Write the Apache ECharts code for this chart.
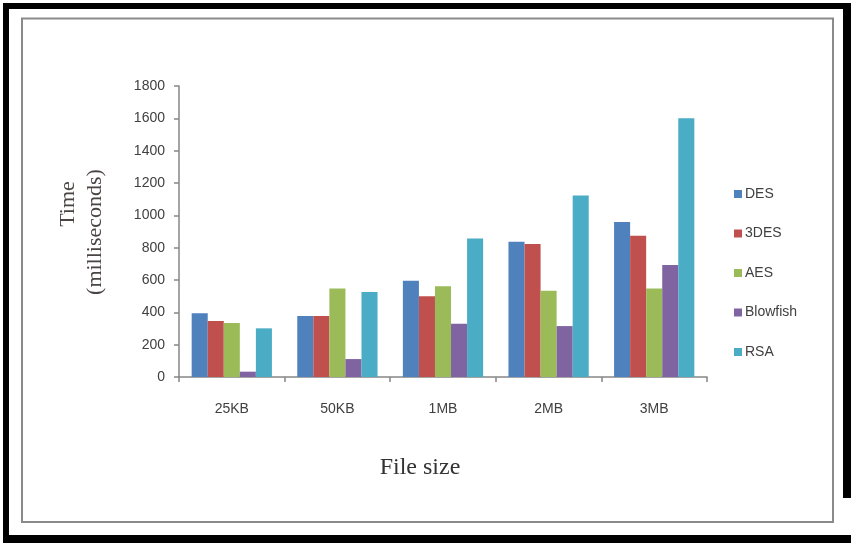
<!DOCTYPE html>
<html>
<head>
<meta charset="utf-8">
<script src="https://cdn.jsdelivr.net/npm/echarts@6/dist/echarts.min.js"></script>
<style>
html,body{margin:0;padding:0;background:#fff;}
#chart{width:851px;height:543px;}
</style>
</head>
<body>
<div id="chart"></div>
<script>
const categories = ['25KB', '50KB', '1MB', '2MB', '3MB'];
const seriesNames = ['DES', '3DES', 'AES', 'Blowfish', 'RSA'];
const desValues = [395, 377, 596, 837, 959];
const tripleDesValues = [346, 377, 499, 823, 874];
const aesValues = [334, 548, 561, 534, 548];
const blowfishValues = [33, 111, 330, 315, 693];
const rsaValues = [301, 526, 856, 1122, 1600];
const yTicks = [0, 200, 400, 600, 800, 1000, 1200, 1400, 1600, 1800];

const colors = ['#4F81BD', '#C0504D', '#9BBB59', '#8064A2', '#4BACC6'];
const allValues = [desValues, tripleDesValues, aesValues, blowfishValues, rsaValues];

const chart = echarts.init(document.getElementById('chart'), null, {renderer: 'canvas'});
const labelFont = '"Liberation Sans", Arial, sans-serif';
const serifFont = '"Liberation Serif", "Times New Roman", serif';

chart.setOption({
  animation: false,
  backgroundColor: '#ffffff',
  color: colors,
  grid: {left: 179, right: 144, top: 86, bottom: 166, containLabel: false},
  legend: {
    orient: 'vertical',
    left: 729,
    top: 182,
    itemWidth: 8,
    itemHeight: 8,
    itemGap: 25.5,
    icon: 'rect',
    data: seriesNames,
    textStyle: {fontFamily: labelFont, fontSize: 14, color: '#404040', lineHeight: 14, padding: [0, 0, 0, -2]}
  },
  xAxis: {
    type: 'category',
    data: categories,
    boundaryGap: true,
    axisLine: {show: true, lineStyle: {color: '#868686', width: 1.5}},
    axisTick: {show: true, length: 5, lineStyle: {color: '#868686', width: 1.5}},
    axisLabel: {margin: 25, fontFamily: labelFont, fontSize: 14, color: '#404040'},
    splitLine: {show: false}
  },
  yAxis: {
    type: 'value',
    min: yTicks[0],
    max: yTicks[yTicks.length - 1],
    interval: yTicks[1] - yTicks[0],
    axisLine: {show: true, lineStyle: {color: '#868686', width: 1.5}},
    axisTick: {show: true, length: 5, lineStyle: {color: '#868686', width: 1.5}},
    axisLabel: {margin: 14, fontFamily: labelFont, fontSize: 14, color: '#404040', formatter: v => String(v)},
    splitLine: {show: false}
  },
  series: seriesNames.map((name, i) => ({
    name: name,
    type: 'bar',
    data: allValues[i],
    barGap: '0%',
    barCategoryGap: '24%',
    itemStyle: {color: colors[i]}
  })),
  graphic: [
    {type: 'rect', shape: {x: 3, y: 3, width: 848, height: 6}, style: {fill: '#000'}, silent: true},
    {type: 'rect', shape: {x: 3, y: 3, width: 6, height: 540}, style: {fill: '#000'}, silent: true},
    {type: 'rect', shape: {x: 3, y: 535, width: 848, height: 8}, style: {fill: '#000'}, silent: true},
    {type: 'rect', shape: {x: 843, y: 3, width: 8, height: 495}, style: {fill: '#000'}, silent: true},
    {type: 'rect', shape: {x: 22, y: 18.5, width: 811, height: 503.5}, style: {fill: 'none', stroke: '#8a8a8a', lineWidth: 2}, silent: true},
    {
      type: 'text', x: 68, y: 204, rotation: Math.PI / 2,
      style: {text: 'Time', font: '22px ' + serifFont, fill: '#4a4543', align: 'center', verticalAlign: 'middle'}
    },
    {
      type: 'text', x: 95, y: 232, rotation: Math.PI / 2,
      style: {text: '(milliseconds)', font: '22px ' + serifFont, fill: '#4a4543', align: 'center', verticalAlign: 'middle'}
    },
    {
      type: 'text', x: 420, y: 468,
      style: {text: 'File size', font: '24px ' + serifFont, fill: '#333333', align: 'center', verticalAlign: 'middle'}
    }
  ]
});
</script>
</body>
</html>
